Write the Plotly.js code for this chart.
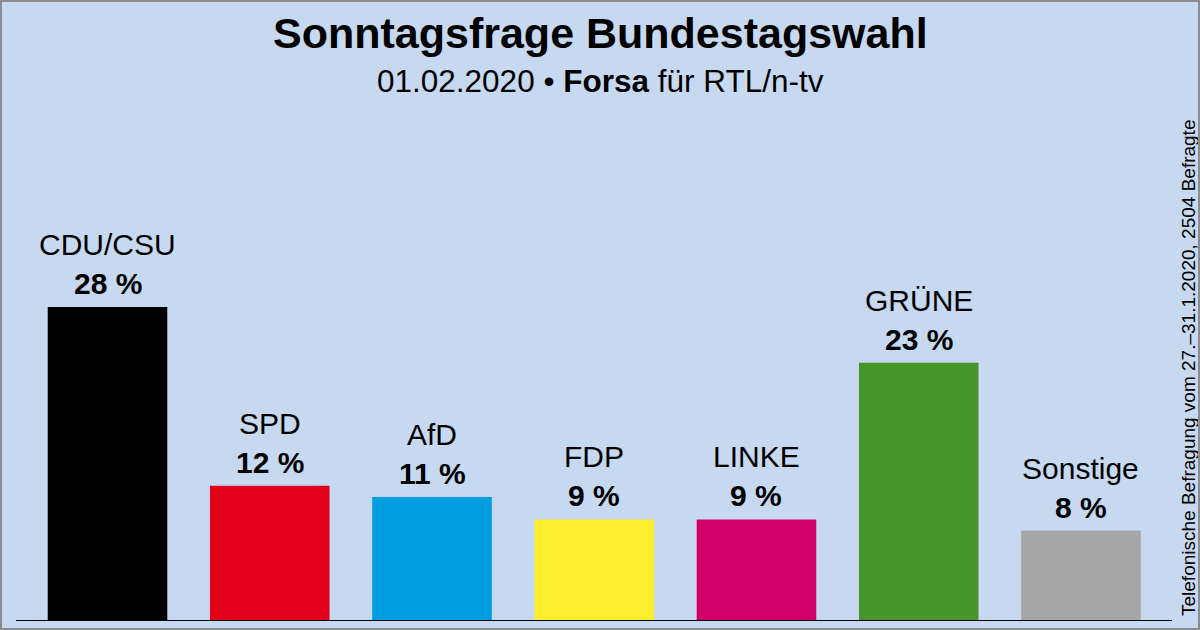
<!DOCTYPE html>
<html>
<head>
<meta charset="utf-8">
<script src="https://cdn.plot.ly/plotly-3.0.1.min.js"></script>
<style>
html,body{margin:0;padding:0;background:#C6D9F0;}
#chart{width:1196px;height:626px;border:2px solid #8C8C8C;}
</style>
</head>
<body>
<div id="chart"></div>
<script>
const parties = ["CDU/CSU", "SPD", "AfD", "FDP", "LINKE", "GRÜNE", "Sonstige"];
const values = [28, 12, 11, 9, 9, 23, 8];
const colors = ["#000000", "#E3001B", "#009EE0", "#FDED2F", "#D10069", "#46962B", "#A6A6A6"];
const titleText = "Sonntagsfrage Bundestagswahl";
const subtitleText = "01.02.2020 • <b>Forsa</b> für RTL/n-tv";
const sideNote = "Telefonische Befragung vom 27.–31.1.2020, 2504 Befragte";

const W = 1196, H = 626;
const M = {l: 14, r: 26, t: 98, b: 8};
const plotH = H - M.t - M.b;
const plotW = W - M.l - M.r;
const FONT = "Liberation Sans, Arial, sans-serif";

function py(pix) { return 1 - (pix - M.t) / plotH; }
function px(pix) { return (pix - M.l) / plotW; }

const annotations = [];
parties.forEach((p, i) => {
  annotations.push({
    x: p, y: values[i], xref: "x", yref: "y",
    text: "<b>" + values[i] + " %</b>", showarrow: false,
    xanchor: "center", yanchor: "bottom", yshift: 5,
    font: {family: FONT, size: 30, color: "#000"}
  });
  annotations.push({
    x: p, y: values[i], xref: "x", yref: "y",
    text: p, showarrow: false,
    xanchor: "center", yanchor: "bottom", yshift: 44,
    font: {family: FONT, size: 30, color: "#000"}
  });
});
annotations.push({
  x: px(598), y: py(31), xref: "paper", yref: "paper",
  text: "<b>" + titleText + "</b>", showarrow: false,
  xanchor: "center", yanchor: "middle",
  font: {family: FONT, size: 43, color: "#000"}
});
annotations.push({
  x: px(598), y: py(79), xref: "paper", yref: "paper",
  text: subtitleText, showarrow: false,
  xanchor: "center", yanchor: "middle",
  font: {family: FONT, size: 31.5, color: "#000"}
});
annotations.push({
  x: px(1186), y: py(366), xref: "paper", yref: "paper",
  text: sideNote, showarrow: false, textangle: -90,
  xanchor: "center", yanchor: "middle",
  font: {family: FONT, size: 19, color: "#000"}
});

const trace = {
  type: "bar", x: parties, y: values,
  marker: {color: colors, line: {width: 0}},
  width: 0.737, hoverinfo: "skip"
};

const layout = {
  width: W, height: H,
  margin: M,
  paper_bgcolor: "#C6D9F0", plot_bgcolor: "#C6D9F0",
  showlegend: false,
  xaxis: {
    type: "category", range: [-0.564, 6.561], showticklabels: false,
    ticks: "", showgrid: false, zeroline: false,
    showline: true, linecolor: "#000", linewidth: 1, fixedrange: true
  },
  yaxis: {
    range: [0, plotH / 11.18], showticklabels: false, ticks: "",
    showgrid: false, zeroline: false, showline: false, fixedrange: true
  },
  annotations: annotations
};

Plotly.newPlot("chart", [trace], layout, {displayModeBar: false, staticPlot: true});
</script>
</body>
</html>
